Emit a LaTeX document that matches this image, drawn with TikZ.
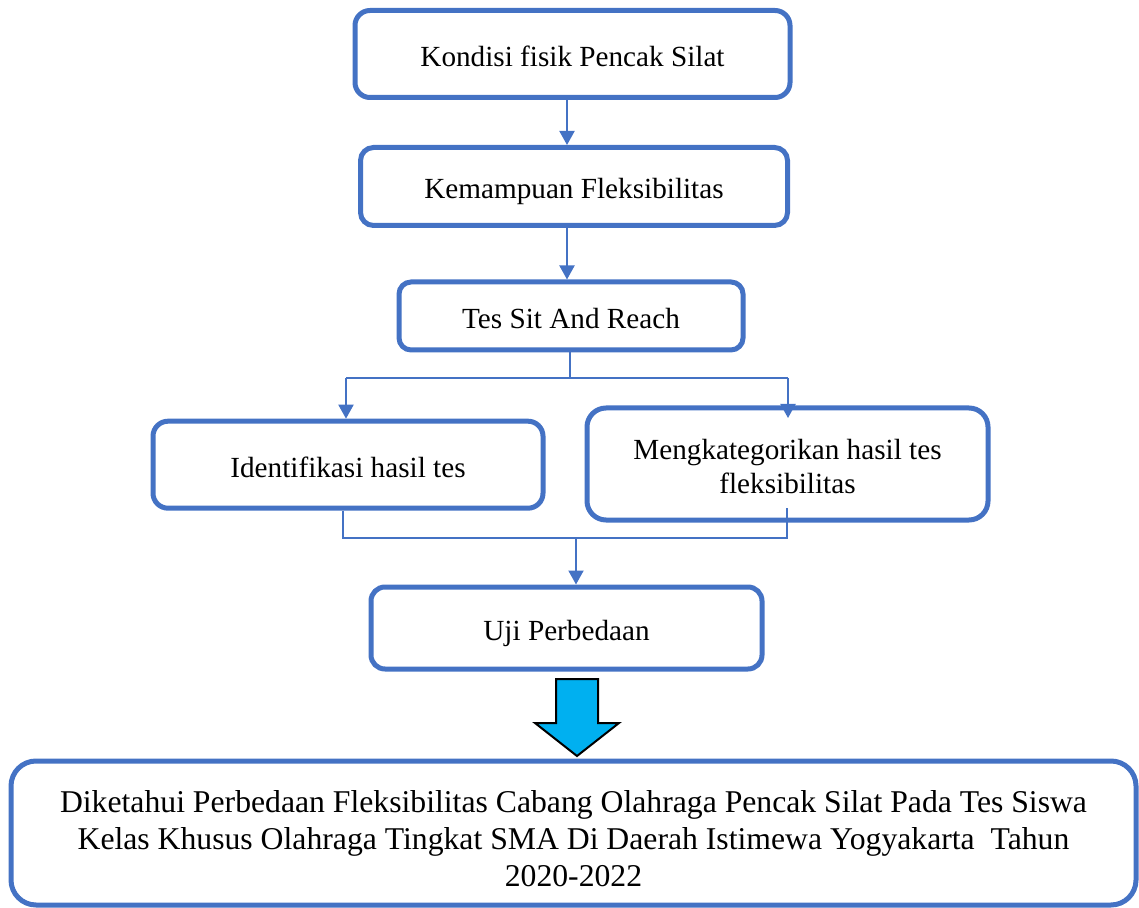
\documentclass[tikz,border=0pt]{standalone}
\usepackage{fontspec}
\setmainfont{Liberation Serif}
\usetikzlibrary{arrows.meta}
\definecolor{boxblue}{HTML}{4472C4}
\definecolor{arrowfill}{HTML}{00B0F0}
\begin{document}
\begin{tikzpicture}[x=0.5pt,y=-0.5pt,
  box/.style={draw=boxblue, line width=2.5pt, fill=white, align=center,
    font=\fontsize{14.6}{17}\selectfont, inner sep=0pt},
  onebox/.style={box, text height=12.5pt, text depth=0pt},
  bigbox/.style={box, font=\fontsize{15.85}{18.5}\selectfont},
  arr/.style={draw=boxblue, line width=1pt, -{Triangle[width=7.5pt,length=7pt]}},
  thin/.style={draw=boxblue, line width=0.6pt},
  blockarrow/.style={fill=arrowfill, draw=black, line width=1pt, line join=miter}]
\useasboundingbox (0,0) rectangle (1139,908);
% boxes
\node[onebox, minimum width=217.5pt, minimum height=43.5pt, rounded corners=7.5pt] (k) at (572.5,54) {Kondisi fisik Pencak Silat};
\node[onebox, minimum width=213.5pt, minimum height=39pt, rounded corners=6.5pt] (m) at (574,186.5) {Kemampuan Fleksibilitas};
\node[onebox, minimum width=172pt, minimum height=34pt, rounded corners=6pt] (t) at (571,316) {Tes Sit And Reach};
\node[onebox, minimum width=195pt, minimum height=43.5pt, rounded corners=7.5pt] (i) at (348,464.7) {Identifikasi hasil tes};
\node[box, minimum width=200.5pt, minimum height=56pt, rounded corners=9.5pt] (g) at (787.5,464) {};
\node[font=\fontsize{14.6}{17}\selectfont, align=center, inner sep=0pt] (gt) at (787.5,467) {Mengkategorikan hasil tes\\fleksibilitas};
\node[onebox, minimum width=195.5pt, minimum height=41pt, rounded corners=7pt] (u) at (566.5,628) {Uji Perbedaan};
\node[bigbox, minimum width=562.5pt, minimum height=72pt, rounded corners=12.5pt] (d) at (573.5,833) {};
\node[font=\fontsize{15.85}{18.5}\selectfont, align=center, inner sep=0pt] (dt) at (573.5,839) {Diketahui Perbedaan Fleksibilitas Cabang Olahraga Pencak Silat Pada Tes Siswa\\Kelas Khusus Olahraga Tingkat SMA Di Daerah Istimewa Yogyakarta\ \ Tahun\\2020-2022};
% helper coordinates
\coordinate (x1) at (567,0);
\coordinate (x2) at (570,0);
\coordinate (splitL) at (346,378);
\coordinate (splitR) at (788,378);
\coordinate (splitM) at (570,378);
\coordinate (gEnd) at (788,418);
\coordinate (joinL) at (343,538);
\coordinate (joinR) at (787,538);
\coordinate (joinM) at (576,538);
\coordinate (gStart) at (787,508);
% connectors
\draw[arr] (k.south -| x1) -- (m.north -| x1);
\draw[arr] (m.south -| x1) -- (t.north -| x1);
\draw[thin] (t.south -| x2) -- (splitM);
\draw[thin] (splitL) -- (splitR);
\draw[arr] (splitL) -- (i.north -| splitL);
\draw[arr] (splitR) -- (gEnd);
\draw[thin] (i.south -| joinL) -- (joinL) -- (joinR) -- (gStart);
\draw[arr] (joinM) -- (u.north -| joinM);
% block arrow
\draw[blockarrow] (556,679) -- (598,679) -- (598,723) -- (619,723) -- (577,756) -- (535,723) -- (556,723) -- cycle;
\end{tikzpicture}
\end{document}
